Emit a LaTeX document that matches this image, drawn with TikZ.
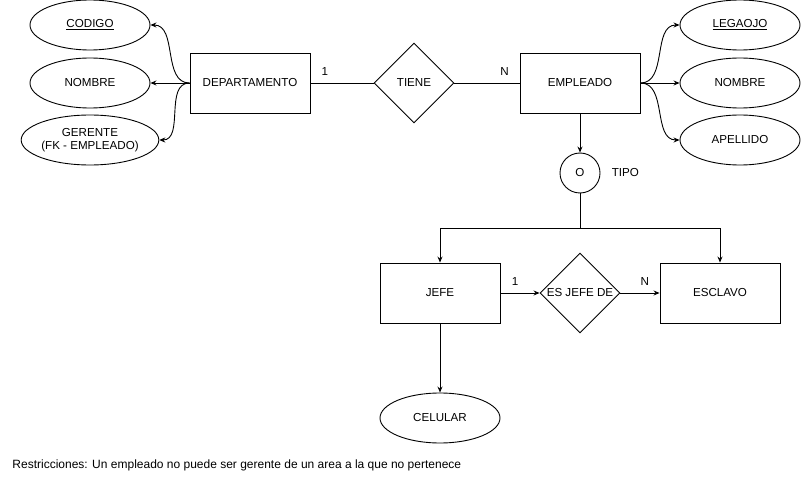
\documentclass[tikz,border=0pt]{standalone}
\usepackage{fontspec}
\setmainfont{Liberation Sans}
\usepackage{tikz}
\usetikzlibrary{shapes.geometric, arrows.meta, positioning}

\begin{document}
\begin{tikzpicture}[x=1pt, y=-1pt, line width=0.9pt,
    font=\fontsize{11.6}{13.5}\selectfont,
    >={Stealth[length=6pt, width=5pt]},
    entity/.style={draw, rectangle, minimum width=120pt, minimum height=60pt, inner sep=0pt},
    attr/.style={draw, ellipse, minimum width=120pt, minimum height=50pt, inner sep=0pt, align=center},
    relation/.style={draw, diamond, minimum width=80pt, minimum height=80pt, inner sep=0pt},
    card/.style={inner sep=1pt}]
  \useasboundingbox (0,0) rectangle (801,481);

  % Departamento
  \node[entity] (dep) at (250, 83) {DEPARTAMENTO};
  \node[attr] (codigo) at (90, 25) {\underline{CODIGO}};
  \node[attr] (nombred) at (90, 83) {NOMBRE};
  \node[attr] (gerente) at (90, 140) {GERENTE\\(FK - EMPLEADO)};

  \draw[->] (dep.west) to[out=180, in=0] (codigo.east);
  \draw[->] (dep.west) -- (nombred.east);
  \draw[->] (dep.west) to[out=180, in=0] (gerente.east);

  % Tiene
  \node[relation] (tiene) at (414, 83) {TIENE};
  \draw (dep) -- node[card, pos=0.23, above=6pt] {1} (tiene);

  % Empleado
  \node[entity] (emp) at (580, 83) {EMPLEADO};
  \draw (tiene) -- node[card, pos=0.77, above=6pt] {N} (emp);
  \node[attr] (legajo) at (740, 25) {\underline{LEGAOJO}};
  \node[attr] (nombree) at (740, 83) {NOMBRE};
  \node[attr] (apellido) at (740, 140) {APELLIDO};

  \draw[->] (emp.east) to[out=0, in=180] (legajo.west);
  \draw[->] (emp.east) -- (nombree.west);
  \draw[->] (emp.east) to[out=0, in=180] (apellido.west);

  % Tipo
  \node[draw, circle, minimum size=40pt, inner sep=0pt] (tipo) at (580, 173) {O};
  \node[anchor=west] (tipolbl) at (608, 173) {TIPO};
  \draw[->] (emp) -- (tipo);

  \node[entity] (jefe) at (440, 293) {JEFE};
  \node[entity] (esclavo) at (720, 293) {ESCLAVO};
  \coordinate (split) at (580, 228);
  \draw (tipo) -- (split);
  \draw[->] (split) -| (jefe);
  \draw[->] (split) -| (esclavo);

  % Es jefe de
  \node[relation] (esjefe) at (580, 293) {ES JEFE DE};
  \draw[->] (jefe) -- node[card, pos=0.375, above=6pt] {1} (esjefe);
  \draw[->] (esjefe) -- node[card, pos=0.625, above=6pt] {N} (esclavo);

  % Celular
  \node[attr] (celular) at (440, 418) {CELULAR};
  \draw[->] (jefe) -- (celular);

  % Restricciones
  \node[anchor=west, inner sep=0pt, font=\fontsize{12}{14}\selectfont] (restr) at (12, 465) {Restricciones: Un empleado no puede ser gerente de un area a la que no pertenece};
\end{tikzpicture}
\end{document}
